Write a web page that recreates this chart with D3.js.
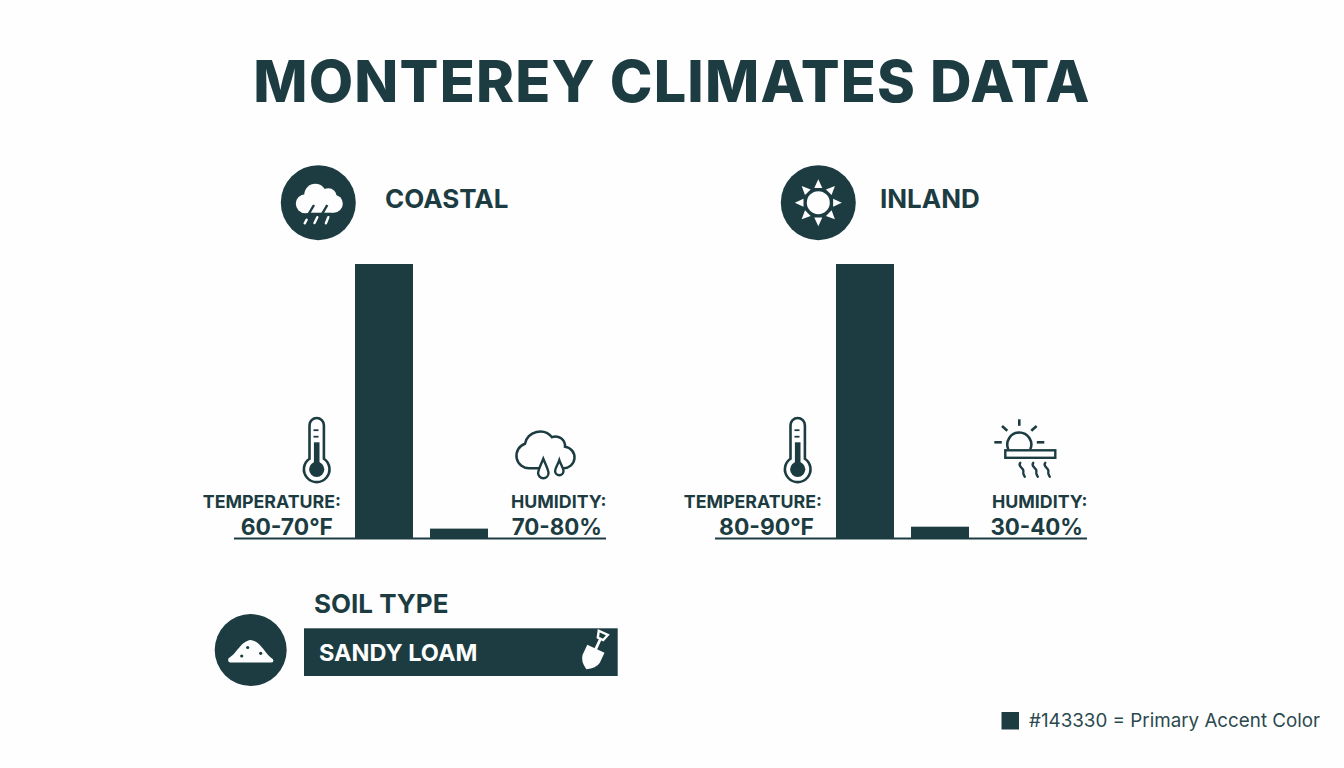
<!DOCTYPE html>
<html lang="en">
<head>
<meta charset="UTF-8">
<title>Monterey Climates Data</title>
<script src="https://d3js.org/d3.v7.min.js"></script>
<style>
    html, body { margin: 0; background: #fefefe; }
    svg { display: block; }
    text { font-family: Inter, sans-serif; fill: #1c3c42; }
</style>
</head>
<body>
<svg width="1344" height="768"></svg>
<script>
    const titleText = "MONTEREY CLIMATES DATA";
    const regions = ["COASTAL", "INLAND"];
    const barKeys = ["temperature", "humidity"];
    // bar heights as a share of the tallest bar
    const temperatureBars = [100, 100];
    const humidityBars = [3.6, 4.3];
    const temperatureLabels = ["60-70°F", "80-90°F"];
    const humidityLabels = ["70-80%", "30-40%"];
    const soilHeading = "SOIL TYPE";
    const soilValue = "SANDY LOAM";
    const legendText = "#143330 = Primary Accent Color";

    const dark = "#1c3c42";
    const paper = "#fefefe";
    const svg = d3.select("svg");

    svg.append("rect").attr("width", 1344).attr("height", 768).attr("fill", paper);

    svg.append("text").attr("x", 672).attr("y", 101.7)
        .attr("text-anchor", "middle")
        .attr("font-size", 57.5).attr("font-weight", 800)
        .attr("letter-spacing", 1.2)
        .text(titleText);

    const x = d3.scaleBand().domain(barKeys).range([355, 488]).paddingInner(0.227);
    const y = d3.scaleLinear().domain([0, 100]).range([538.5, 264]);
    const panelShift = d3.scaleBand().domain(regions).range([0, 962]);

    regions.forEach(function (region, i) {
        const g = svg.append("g").attr("transform", "translate(" + panelShift(region) + ",0)");
        const values = [temperatureBars[i], humidityBars[i]];

        g.selectAll("rect.bar")
            .data(barKeys)
            .enter()
            .append("rect")
            .attr("class", "bar")
            .attr("x", d => x(d))
            .attr("width", x.bandwidth())
            .attr("y", (d, j) => y(values[j]))
            .attr("height", (d, j) => y(0) - y(values[j]))
            .attr("fill", dark);

        g.append("line")
            .attr("x1", 234).attr("x2", 606)
            .attr("y1", y(0)).attr("y2", y(0))
            .attr("stroke", dark).attr("stroke-width", 2);

        g.append("text").attr("x", i === 0 ? 385 : 399).attr("y", 208)
            .attr("font-size", 26).attr("font-weight", 700)
            .text(region);

        g.append("text").attr("x", 341).attr("y", 508).attr("text-anchor", "end")
            .attr("font-size", 17.8).attr("font-weight", 700).text("TEMPERATURE:");
        g.append("text").attr("x", 333).attr("y", 534.5).attr("text-anchor", "end")
            .attr("font-size", 22.8).attr("font-weight", 700).text(temperatureLabels[i]);
        g.append("text").attr("x", 606.5).attr("y", 508).attr("text-anchor", "end")
            .attr("font-size", 17.8).attr("font-weight", 700).text("HUMIDITY:");
        g.append("text").attr("x", 602).attr("y", 534.5).attr("text-anchor", "end")
            .attr("font-size", 22.3).attr("font-weight", 700).text(humidityLabels[i]);

        thermometer(g.append("g").attr("transform", "translate(316.7,469.3)"));
    });

    rainBadge(svg.append("g").attr("transform", "translate(318.3,202.7)"));
    sunBadge(svg.append("g").attr("transform", "translate(818.3,202.7)"));
    rainCloud(svg.append("g").attr("transform", "translate(516,427.7)"));
    heatSun(svg.append("g").attr("transform", "translate(1019.3,442.3)"));

    // soil block
    svg.append("text").attr("x", 314).attr("y", 612.5)
        .attr("font-size", 26).attr("font-weight", 700).text(soilHeading);
    svg.append("rect").attr("x", 304).attr("y", 628.3).attr("width", 313.7).attr("height", 47.7)
        .attr("fill", dark);
    svg.append("text").attr("x", 319).attr("y", 661)
        .attr("font-size", 23.5).attr("font-weight", 700).style("fill", "#fefefe").text(soilValue);
    sandBadge(svg.append("g").attr("transform", "translate(250.7,650)"));
    shovel(svg.append("g").attr("transform", "translate(592.5,656) rotate(25)"));

    // colour note
    svg.append("rect").attr("x", 1001.5).attr("y", 712).attr("width", 17.5).attr("height", 17.5)
        .attr("fill", dark);
    svg.append("text").attr("x", 1029).attr("y", 727)
        .attr("font-size", 18.8).style("fill", "#2b494e").text(legendText);

    function thermometer(g) {
        g.append("path")
            .attr("d", "M-7.2 -10.6 V-44.1 A7.2 7.2 0 0 1 7.2 -44.1 V-10.6 A12.8 12.8 0 1 1 -7.2 -10.6 Z")
            .attr("fill", "none").attr("stroke", dark).attr("stroke-width", 2.6);
        g.append("circle").attr("r", 7.6).attr("fill", dark);
        g.append("rect").attr("x", -2.8).attr("y", -27).attr("width", 5.6).attr("height", 24).attr("fill", dark);
        g.selectAll("rect.tick").data([-40, -33.5]).enter().append("rect")
            .attr("class", "tick").attr("x", -3.2).attr("y", d => d)
            .attr("width", 5).attr("height", 1.8).attr("fill", dark);
    }

    function rainBadge(g) {
        g.append("circle").attr("r", 37.5).attr("fill", dark);
        const cloud = g.append("g").attr("fill", paper);
        [[-13, 1, 9.5], [-3, -8, 11], [10, -6, 8.5], [15.5, 1, 9]].forEach(function (c) {
            cloud.append("circle").attr("cx", c[0]).attr("cy", c[1]).attr("r", c[2]);
        });
        cloud.append("rect").attr("x", -13).attr("y", -4).attr("width", 28).attr("height", 14);
        [[-4.3, 2.3, -10, 12], [9, 2.3, 3.4, 12]].forEach(function (s) {
            g.append("line").attr("x1", s[0]).attr("y1", s[1]).attr("x2", s[2]).attr("y2", s[3])
                .attr("stroke", dark).attr("stroke-width", 2.4);
        });
        [[-11.6, 17, -13.6, 20.6], [-1, 14.5, -3.8, 20.4], [10, 14.5, 7.6, 20.6]].forEach(function (s) {
            g.append("line").attr("x1", s[0]).attr("y1", s[1]).attr("x2", s[2]).attr("y2", s[3])
                .attr("stroke", paper).attr("stroke-width", 2.4).attr("stroke-linecap", "round");
        });
    }

    function sunBadge(g) {
        g.append("circle").attr("r", 37.5).attr("fill", dark);
        g.append("circle").attr("r", 11.5).attr("fill", paper);
        d3.range(8).forEach(function (k) {
            g.append("path").attr("d", "M0 -23.5 L4 -14.8 H-4 Z")
                .attr("fill", paper)
                .attr("transform", "rotate(" + (k * 45) + ")");
        });
    }

    function dropPath(cx, top, bottom, r) {
        const m = bottom - r;
        return "M" + cx + " " + top +
            " C" + (cx + r * 0.3) + " " + (top + 4) + " " + (cx + r) + " " + (m - 3) + " " + (cx + r) + " " + m +
            " A" + r + " " + r + " 0 0 1 " + (cx - r) + " " + m +
            " C" + (cx - r) + " " + (m - 3) + " " + (cx - r * 0.3) + " " + (top + 4) + " " + cx + " " + top + " Z";
    }

    function rainCloud(g) {
        g.append("path")
            .attr("d", "M47 40.5 A10.8 10.8 0 0 0 49 19 A9.5 9.5 0 0 0 36 9.5 A15.5 15.5 0 0 0 9 16 A12.6 12.6 0 0 0 14 40.5 H24")
            .attr("fill", "none").attr("stroke", dark).attr("stroke-width", 2.5);
        g.append("path").attr("d", dropPath(27.3, 31, 50.5, 5.2))
            .attr("fill", paper).attr("stroke", dark).attr("stroke-width", 2.4);
        g.append("path").attr("d", dropPath(43.3, 32.5, 47.5, 4.2))
            .attr("fill", paper).attr("stroke", dark).attr("stroke-width", 2.4);
    }

    function heatSun(g) {
        g.append("path").attr("d", "M-11 7 A12 12 0 1 1 11 7")
            .attr("fill", "none").attr("stroke", dark).attr("stroke-width", 2.6);
        [[0, -23, 0, -16.5], [-17.3, -16.3, -12, -11.5], [17.3, -16.3, 12, -11.5], [-25, 0, -17.5, 0], [17.5, 0, 25, 0]]
            .forEach(function (r) {
                g.append("line").attr("x1", r[0]).attr("y1", r[1]).attr("x2", r[2]).attr("y2", r[3])
                    .attr("stroke", dark).attr("stroke-width", 2.6);
            });
        g.append("rect").attr("x", -14).attr("y", 8).attr("width", 50).attr("height", 7.5)
            .attr("fill", "none").attr("stroke", dark).attr("stroke-width", 2.4);
        [1, 14, 26].forEach(function (dx) {
            g.append("path")
                .attr("d", "M" + dx + " 20.5 c-3.5 4 4.5 5 3 9 c-0.5 2 0.5 3 1.5 5")
                .attr("fill", "none").attr("stroke", dark).attr("stroke-width", 2.3).attr("stroke-linecap", "round");
        });
    }

    function sandBadge(g) {
        g.append("circle").attr("r", 36).attr("fill", dark);
        g.append("path")
            .attr("d", "M-19 12.5 H20 Q24 12.5 22 9 C14 4 10 -9 0 -10 C-10 -9 -14 4 -22 8 Q-24 12.5 -19 12.5 Z")
            .attr("fill", paper);
        [[-3, -2.5], [-9, 6], [10, 3.3]].forEach(function (p) {
            g.append("circle").attr("cx", p[0]).attr("cy", p[1]).attr("r", 1.6).attr("fill", dark);
        });
    }

    function shovel(g) {
        g.append("path").attr("d", "M-9.5 -8 H9.5 V3 Q8.5 10 0 14.5 Q-8.5 10 -9.5 3 Z").attr("fill", paper);
        g.append("rect").attr("x", -1.4).attr("y", -19).attr("width", 2.8).attr("height", 12).attr("fill", paper);
        g.append("path").attr("d", "M-5 -25.5 H5 L3 -19 H-3 Z")
            .attr("fill", "none").attr("stroke", paper).attr("stroke-width", 2.4);
    }
</script>
</body>
</html>
